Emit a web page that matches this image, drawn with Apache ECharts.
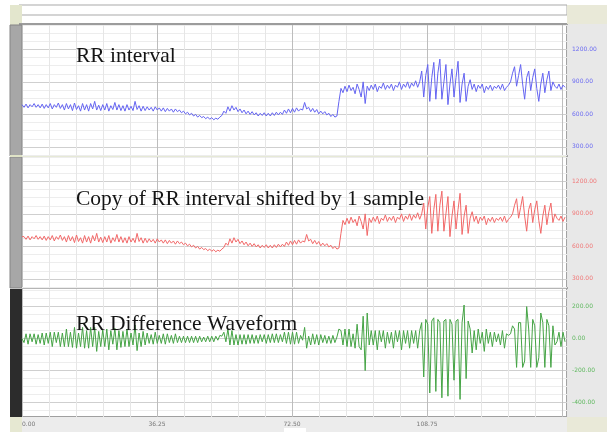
<!DOCTYPE html>
<html><head><meta charset="utf-8">
<script src="https://cdn.jsdelivr.net/npm/echarts@6/dist/echarts.min.js"></script>
<style>html,body{margin:0;padding:0;background:#fff}#c{width:607px;height:432px}</style>
</head><body><div id="c"></div><script>
// RR interval (ms) per sample
const RR_INTERVAL = [
690,665,695,660,690,670,700,665,690,660,
695,655,690,660,700,650,690,665,705,655,
690,640,700,650,690,635,705,645,680,630,
700,640,690,630,700,650,720,640,685,635,
690,640,700,630,680,645,710,640,690,635,
680,630,690,640,675,635,720,645,680,630,
675,635,670,640,665,630,670,640,660,630,
660,625,655,630,650,620,650,625,640,615,
630,605,620,595,610,585,600,575,590,570,
580,560,575,555,570,550,565,555,575,590,
630,610,670,630,680,640,665,625,650,615,
640,605,630,600,625,595,615,585,610,590,
615,585,610,585,615,590,620,595,620,600,
640,610,650,615,655,620,660,630,650,640,
710,650,665,625,655,620,645,605,630,605,
625,595,610,580,600,575,585,720,840,800,
860,810,870,820,850,790,880,830,760,900,
700,860,820,870,830,880,810,860,840,890,
830,870,840,880,820,870,850,900,830,880,
850,900,840,890,860,910,850,900,1000,760,
960,1060,720,940,1080,740,980,1110,740,900,
1060,690,880,1020,760,940,1090,710,880,980,
720,860,920,830,880,810,870,840,880,800,
860,830,870,820,860,840,870,830,880,820,
850,870,900,980,1040,860,960,1060,880,740,
940,1000,820,940,1020,840,720,880,980,800,
920,1000,820,900,860,840,880,830,870,850];
// copy of RR interval shifted by one sample (middle trace)
const RR_SHIFTED = [
690,690,665,695,660,690,670,700,665,690,
660,695,655,690,660,700,650,690,665,705,
655,690,640,700,650,690,635,705,645,680,
630,700,640,690,630,700,650,720,640,685,
635,690,640,700,630,680,645,710,640,690,
635,680,630,690,640,675,635,720,645,680,
630,675,635,670,640,665,630,670,640,660,
630,660,625,655,630,650,620,650,625,640,
615,630,605,620,595,610,585,600,575,590,
570,580,560,575,555,570,550,565,555,575,
590,630,610,670,630,680,640,665,625,650,
615,640,605,630,600,625,595,615,585,610,
590,615,585,610,585,615,590,620,595,620,
600,640,610,650,615,655,620,660,630,650,
640,710,650,665,625,655,620,645,605,630,
605,625,595,610,580,600,575,585,720,840,
800,860,810,870,820,850,790,880,830,760,
900,700,860,820,870,830,880,810,860,840,
890,830,870,840,880,820,870,850,900,830,
880,850,900,840,890,860,910,850,900,1000,
760,960,1060,720,940,1080,740,980,1110,740,
900,1060,690,880,1020,760,940,1090,710,880,
980,720,860,920,830,880,810,870,840,880,
800,860,830,870,820,860,840,870,830,880,
820,850,870,900,980,1040,860,960,1060,880,
740,940,1000,820,940,1020,840,720,880,980,
800,920,1000,820,900,860,840,880,830,870];
// RR difference waveform (bottom trace)
const RR_DIFF = [
0,-25,30,-35,30,-20,30,-35,25,-30,
35,-40,35,-30,40,-50,40,-25,40,-50,
35,-50,60,-50,40,-55,70,-60,35,-50,
70,-60,50,-60,70,-50,70,-80,45,-50,
55,-50,60,-70,50,-35,65,-70,50,-55,
45,-50,60,-50,35,-40,85,-75,35,-50,
45,-40,35,-30,25,-35,40,-30,20,-30,
30,-35,30,-25,20,-30,30,-25,15,-25,
15,-25,15,-25,15,-25,15,-25,15,-20,
10,-20,15,-20,15,-20,15,-10,20,15,
40,-20,60,-40,50,-40,25,-40,25,-35,
25,-35,25,-30,25,-30,20,-30,25,-20,
25,-30,25,-25,30,-25,30,-25,25,-20,
40,-30,40,-35,40,-35,40,-30,20,-10,
70,-60,15,-40,30,-35,25,-40,25,-25,
20,-30,15,-30,20,-25,10,60,50,-40,
60,-50,60,-50,30,-60,90,-50,-70,140,
-200,160,-40,50,-40,50,-70,50,-20,50,
-60,40,-30,40,-60,50,-20,50,-70,50,
-30,50,-60,50,-30,50,-60,50,100,-240,
120,90,-340,110,130,-330,120,100,-370,110,
120,-360,120,90,-260,110,120,-380,100,210,
-250,110,60,-90,50,-70,60,-30,40,-80,
60,-30,40,-50,40,-20,30,-40,50,-60,
30,20,30,80,60,-180,100,100,-180,-140,
200,60,-180,120,80,-180,-120,160,100,-180,
120,80,-180,80,-40,-20,40,-50,40,-20];
const SAMPLE_SEC = 0.5419;
const TIME_TICKS = [0, 36.25, 72.5, 108.75];
const RR_TICKS = [300, 600, 900, 1200];
const DIFF_TICKS = [-400, -200, 0, 200];
const PANEL_TITLES = ['RR interval', 'Copy of RR interval shifted by 1 sample', 'RR Difference Waveform'];

const X_MAX = 146.3;
const MAJ = '#cfcfcf', MIN = '#ededed', VMAJ = '#bdbdbd', VMIN = '#e6e6e6', NONE = 'rgba(0,0,0,0)';
function isTick(list, v) { return list.some(t => Math.abs(t - v) < 1e-6); }
function xAxis(gi, showLabels) {
  return { type: 'value', gridIndex: gi, min: 0, max: X_MAX, interval: 7.25,
    axisLine: { show: false }, axisTick: { show: false },
    splitLine: { show: true, lineStyle: { color: [VMAJ, VMIN, VMIN, VMIN, VMIN], width: 1 } },
    axisLabel: { show: showLabels, formatter: v => isTick(TIME_TICKS, v) ? v.toFixed(2) : '',
      fontSize: 6, color: '#777', margin: 4, alignMinLabel: 'left', fontFamily: 'DejaVu Sans' } };
}
function yAxis(gi, min, max, interval, ticks, colors, labelColor) {
  return { type: 'value', gridIndex: gi, position: 'right', min, max, interval,
    axisLine: { show: false }, axisTick: { show: false },
    splitLine: { show: true, lineStyle: { color: colors, width: 1 } },
    axisLabel: { formatter: v => isTick(ticks, v) ? v.toFixed(2) : '',
      fontSize: 6, color: labelColor, margin: 5, fontFamily: 'DejaVu Sans' } };
}
const toXY = arr => arr.map((v, i) => [i * SAMPLE_SEC, v]);
// diff axis: 10-unit ticks from -490, visible minor every 50, major every 200
const DIFF_COLORS = [];
for (let k = 0; k < 20; k++) DIFF_COLORS.push(k === 9 ? MAJ : (k === 4 || k === 14 || k === 19) ? MIN : NONE);

const chart = echarts.init(document.getElementById('c'), null, { renderer: 'canvas' });
const rect = (x, y, w, h, fill, stroke, z) => ({ type: 'rect', shape: { x, y, width: w, height: h },
  style: { fill, stroke: stroke || null, lineWidth: stroke ? 1 : 0 }, z: z || 0, silent: true });
const txt = (x, y, t) => ({ type: 'text', x, y, z: 100, silent: true,
  style: { text: t, fill: '#141414', font: '21.5px "Liberation Serif"', textVerticalAlign: 'middle' } });

chart.setOption({
  animation: false,
  backgroundColor: '#ffffff',
  grid: [
    { left: 22, top: 25, width: 545, height: 130, show: true, backgroundColor: '#fff', borderWidth: 0, outerBoundsMode: 'none' },
    { left: 22, top: 157, width: 545, height: 130, show: true, backgroundColor: '#fff', borderWidth: 0, outerBoundsMode: 'none' },
    { left: 22, top: 289, width: 545, height: 128, show: true, backgroundColor: '#fff', borderWidth: 0, outerBoundsMode: 'none' }
  ],
  xAxis: [xAxis(0, false), xAxis(1, false), xAxis(2, true)],
  yAxis: [
    yAxis(0, 225, 1425, 75, RR_TICKS, [MIN, MAJ, MIN, MIN], '#6b6bf2'),
    yAxis(1, 225, 1425, 75, RR_TICKS, [MIN, MAJ, MIN, MIN], '#f07878'),
    yAxis(2, -490, 310, 10, DIFF_TICKS, DIFF_COLORS, '#5fb85f')
  ],
  series: [
    { type: 'line', xAxisIndex: 0, yAxisIndex: 0, data: toXY(RR_INTERVAL), showSymbol: false, symbol: 'none',
      lineStyle: { color: '#6464f2', width: 1 }, z: 5 },
    { type: 'line', xAxisIndex: 1, yAxisIndex: 1, data: toXY(RR_SHIFTED), showSymbol: false, symbol: 'none',
      lineStyle: { color: '#f26868', width: 1 }, z: 5 },
    { type: 'line', xAxisIndex: 2, yAxisIndex: 2, data: toXY(RR_DIFF), showSymbol: false, symbol: 'none',
      lineStyle: { color: '#45a445', width: 1 }, z: 5 }
  ],
  graphic: { elements: [
    rect(19, 5, 548, 10, '#ffffff', '#a9a9a9'),
    rect(10, 5, 12, 20, '#e3e6cd'),
    rect(567, 5, 40, 19, '#e9e9d8'),
    rect(19, 23, 548, 2, '#9c9c9c'),
    rect(10, 25, 12, 131, '#a7a7a7', '#858585'),
    rect(10, 157, 12, 131, '#a7a7a7', '#858585'),
    rect(10, 289, 12, 128, '#2c2c2c'),
    rect(10, 155, 12, 2, '#dfe3c6'),
    rect(22, 155, 545, 2, '#e6e9d6'),
    rect(22, 287, 545, 2, '#b5b5b5'),
    rect(567, 24, 40, 393, '#e8e8e8'),
    rect(566, 24, 2, 393, '#a3a3a3'),
    rect(22, 417, 545, 15, '#ececec'),
    rect(22, 416, 545, 1, '#a0a0a0'),
    rect(10, 417, 12, 15, '#e6e8d2'),
    rect(567, 417, 40, 15, '#e9e9d8'),
    rect(284, 428, 22, 6, '#ffffff'),
    txt(76, 56, PANEL_TITLES[0]),
    txt(76, 199, PANEL_TITLES[1]),
    txt(76, 324, PANEL_TITLES[2])
  ] }
});
</script></body></html>
